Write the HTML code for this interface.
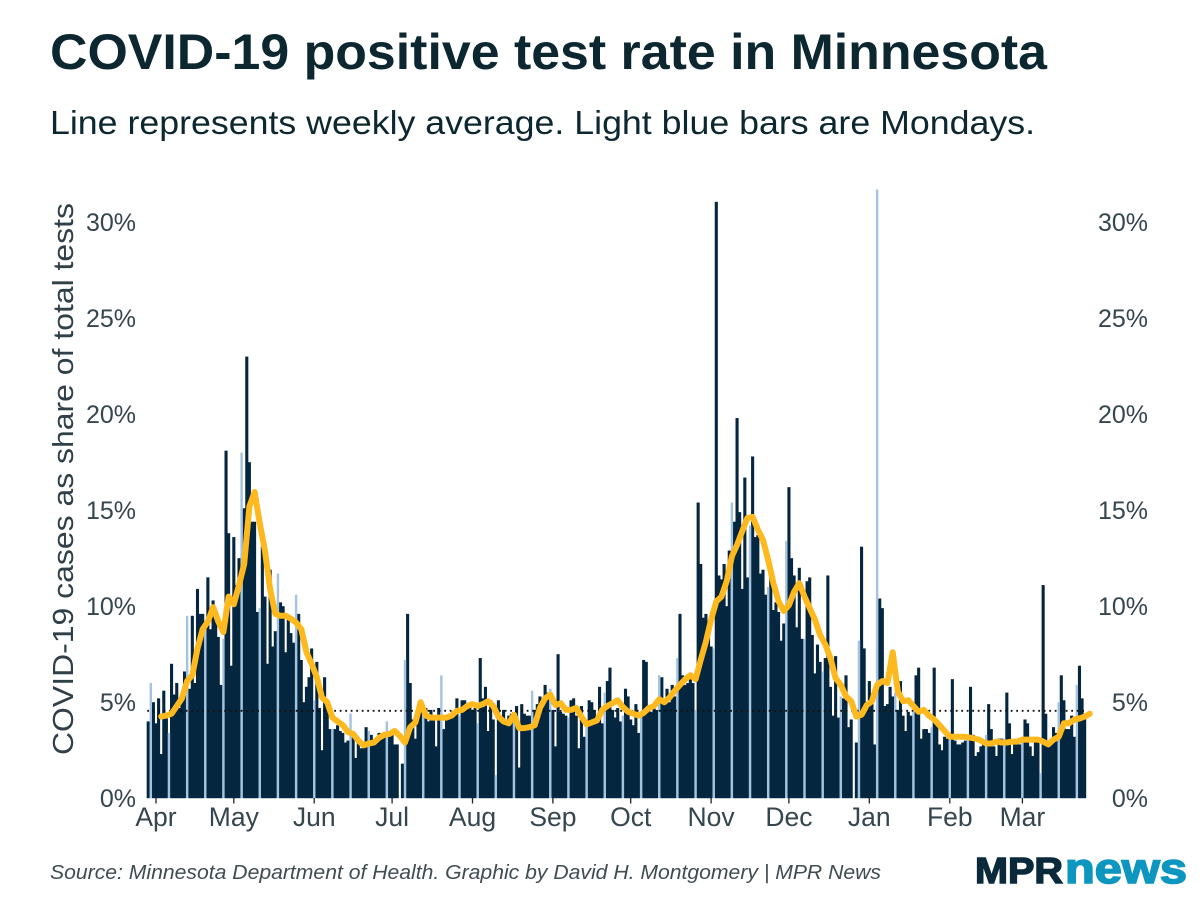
<!DOCTYPE html>
<html lang="en">
<head>
<meta charset="utf-8">
<title>COVID-19 positive test rate in Minnesota</title>
<style>
html,body{margin:0;padding:0;background:#fff;}
#wrap{width:1200px;height:900px;overflow:hidden;background:#fff;}
svg{display:block;}
text{font-family:"Liberation Sans",sans-serif;}
</style>
</head>
<body>
<div id="wrap">
<svg id="chart" width="1200" height="900" viewBox="0 0 1200 900" xmlns="http://www.w3.org/2000/svg">
  <text x="50" y="69" font-size="50" font-weight="700" fill="#0c2730" textLength="997" lengthAdjust="spacingAndGlyphs">COVID-19 positive test rate in Minnesota</text>
  <text x="50" y="134" font-size="33" fill="#0c2730" textLength="985" lengthAdjust="spacingAndGlyphs">Line represents weekly average. Light blue bars are Mondays.</text>
  <text transform="translate(73,755) rotate(-90)" x="0" y="0" font-size="29" fill="#2f4048" textLength="552" lengthAdjust="spacingAndGlyphs">COVID-19 cases as share of total tests</text>
  <g id="bars"></g>
  <g id="axes"></g>
  <g id="ref"></g>
  <g id="lineg"></g>
  <text x="50" y="879" font-size="20" font-style="italic" fill="#3f4c52" textLength="831" lengthAdjust="spacingAndGlyphs">Source: Minnesota Department of Health. Graphic by David H. Montgomery | MPR News</text>
  <g>
    <text x="975" y="883" font-size="36" font-weight="700" fill="#0a2a3c" stroke="#0a2a3c" stroke-width="1.4" textLength="88" lengthAdjust="spacingAndGlyphs">MPR</text>
    <text x="1065" y="883" font-size="43" font-weight="700" fill="#0d96bf" stroke="#0d96bf" stroke-width="1.6" textLength="122" lengthAdjust="spacingAndGlyphs">news</text>
  </g>
</svg>
</div>
<script>
// Daily positive test rate (%), one row per week, Sunday first, beginning Sunday, March 29, 2020.
var dailyRate = [
4.0,6.0,5.0,3.9,5.2,2.3,5.6,
4.4,3.4,7.0,5.4,6.0,4.7,5.1,
6.6,9.5,5.7,9.5,6.0,10.9,9.6,
9.6,8.7,11.5,8.8,10.3,9.5,8.4,
5.9,8.3,18.1,13.8,6.9,13.6,11.1,
12.5,18.0,15.1,23.0,17.5,14.4,14.4,
9.7,9.9,13.1,10.5,7.0,11.9,7.9,
8.7,11.7,10.2,10.0,7.6,9.5,8.6,
8.1,10.6,9.6,7.2,5.0,5.8,6.3,
7.8,5.1,7.1,4.7,2.5,6.3,4.9,
3.6,3.6,3.6,3.8,3.5,3.4,2.9,
3.0,4.4,3.4,2.1,2.9,2.6,2.7,
3.7,3.5,3.3,2.9,2.9,3.4,3.1,
3.4,4.0,3.4,3.5,2.8,2.8,0,
1.8,7.2,9.6,6.0,4.1,3.1,4.7,
4.7,4.6,4.7,4.0,4.6,4.1,2.7,
4.7,6.4,3.6,4.1,4.2,4.4,4.4,
5.2,4.3,5.1,5.1,4.8,4.8,4.6,
4.7,3.9,7.3,5.2,5.8,3.5,5.1,
4.1,1.2,5.1,4.3,4.6,4.1,4.3,
4.4,4.3,4.8,1.6,4.9,4.4,4.3,
4.3,5.6,4.6,4.9,5.3,5.0,5.9,
5.5,5.7,4.6,2.7,7.5,4.5,4.4,
4.3,4.2,5.1,5.2,4.3,2.6,4.8,
3.2,3.7,5.1,5.0,4.6,4.0,5.8,
3.9,5.5,6.1,6.8,4.6,4.2,4.7,
4.0,4.3,5.7,5.3,4.1,3.8,4.9,
3.4,4.3,7.2,7.1,4.7,4.5,4.8,
4.6,6.4,6.3,4.9,5.7,5.0,5.9,
5.3,7.3,9.6,6.4,5.9,6.0,6.4,
6.0,4.6,15.4,12.2,9.4,9.6,9.1,
7.9,7.8,31.06,11.6,11.4,12.2,10.0,
12.9,15.4,14.4,19.8,14.9,10.9,16.7,
11.5,14.2,17.8,13.6,13.7,11.7,11.9,
10.6,11.0,11.5,9.8,10.2,9.7,8.2,
9.1,13.4,16.2,12.5,11.6,8.9,12.0,
8.3,8.3,11.3,11.5,8.5,6.5,8.0,
7.1,6.6,7.3,11.6,5.8,4.3,7.4,
4.2,5.3,5.2,6.4,3.7,4.1,0,
2.9,8.2,13.1,7.8,4.6,6.1,5.0,
2.8,31.7,10.4,9.9,4.8,4.9,5.8,
5.3,5.5,4.6,6.1,4.3,3.5,4.5,
4.3,4.5,6.4,6.8,3.1,3.6,3.6,
3.4,3.7,6.8,4.1,2.8,2.5,3.2,
3.1,3.4,6.2,3.0,2.8,2.8,2.9,
3.0,3.2,5.8,3.3,2.2,2.4,2.7,
2.9,3.3,4.9,3.6,2.7,2.2,3.1,
3.1,3.1,5.5,3.9,2.3,2.9,2.9,
2.8,3.1,4.1,3.9,2.7,2.2,3.0,
3.0,1.3,11.1,4.4,3.0,3.0,3.7,
3.4,5.0,6.4,5.1,3.6,3.6,4.3,
3.2,5.9,6.9,5.2,4.4
];
// Weekly average (%), read every second day starting at the sixth bar.
var weeklyAverage = [
4.25,4.3,4.4,4.8,5.2,6.1,6.4,7.8,8.8,9.2,9.95,9.2,8.65,10.5,10.1,11.1,12.2,15.2,15.95,14.3,
12.9,10.9,9.6,9.5,9.5,9.35,9.15,8.8,7.6,7.0,6.3,5.25,5.0,4.2,4.0,3.8,3.45,3.35,3.0,2.75,
2.85,2.9,3.15,3.3,3.35,3.5,3.25,2.9,3.7,3.95,5.0,4.3,4.2,4.2,4.2,4.2,4.3,4.55,
4.6,4.8,4.9,4.8,4.9,5.05,4.8,4.25,4.0,3.9,4.35,3.65,3.65,3.7,3.8,4.7,5.2,5.4,4.85,4.95,4.6,4.6,
4.7,4.25,3.85,3.95,4.05,4.6,4.8,4.95,5.1,4.75,4.5,4.4,4.3,4.45,4.7,4.8,5.15,5.0,5.25,5.6,5.9,6.2,6.4,6.2,
7.2,8.15,9.3,10.25,10.5,11.3,12.6,13.2,13.9,14.6,14.65,14.0,13.45,12.4,11.2,10.25,9.75,10.05,10.75,11.2,
10.5,9.9,9.3,8.5,8.0,7.3,6.25,5.9,5.3,5.05,4.25,4.35,4.85,5.05,5.9,6.1,6.0,7.6,5.55,5.05,
5.1,4.8,4.5,4.6,4.3,4.1,3.8,3.5,3.2,3.2,3.2,3.2,3.15,3.1,3.0,2.85,2.85,2.95,2.9,2.9,2.95,2.95,
3.05,3.05,3.05,3.05,2.95,2.8,3.05,3.2,3.9,3.9,4.1,4.15,4.25,4.4
];
var monthLabels = ['Apr','May','Jun','Jul','Aug','Sep','Oct','Nov','Dec','Jan','Feb','Mar'];
var monthStartDays = [0,30,61,91,122,153,183,214,244,275,306,334];
var yTickValues = [0,5,10,15,20,25,30];
var referenceRate = 4.55;

var SVGNS = 'http://www.w3.org/2000/svg';
function xDay(d){ return 156 + 2.594 * d; }
function yVal(v){ return 798.2 - 19.2 * v; }
function xBar(i){ return xDay(i - 3); }
function mk(tag, parent){
  var el = document.createElementNS(SVGNS, tag);
  parent.appendChild(el);
  return el;
}

var barsG = document.getElementById('bars');
var axesG = document.getElementById('axes');
var refG = document.getElementById('ref');
var lineG = document.getElementById('lineg');

// Dark bars first, Mondays on top.
[false, true].forEach(function(mondayPass){
  dailyRate.forEach(function(v, i){
    var isMonday = (i % 7) === 1;
    if (isMonday !== mondayPass || v <= 0) return;
    var r = mk('rect', barsG);
    var w = isMonday ? 2.4 : 3.1;
    r.setAttribute('x', (xBar(i) - w / 2).toFixed(2));
    r.setAttribute('y', yVal(v).toFixed(2));
    r.setAttribute('width', w);
    r.setAttribute('height', (yVal(0) - yVal(v)).toFixed(2));
    r.setAttribute('fill', isMonday ? '#a3c3e0' : '#05263f');
    
    
  });
});

yTickValues.forEach(function(v){
  var left = mk('text', axesG);
  left.setAttribute('x', 136);
  left.setAttribute('y', (yVal(v) + 9).toFixed(1));
  left.setAttribute('text-anchor', 'end');
  left.setAttribute('font-size', '25');
  left.setAttribute('fill', '#36464e');
  left.textContent = v + '%';
  
  
  var right = mk('text', axesG);
  right.setAttribute('x', 1148);
  right.setAttribute('y', (yVal(v) + 9).toFixed(1));
  right.setAttribute('text-anchor', 'end');
  right.setAttribute('font-size', '25');
  right.setAttribute('fill', '#36464e');
  right.textContent = v + '%';
  
  
});

monthLabels.forEach(function(m, k){
  var x = xDay(monthStartDays[k]);
  var t = mk('line', axesG);
  t.setAttribute('x1', x.toFixed(1));
  t.setAttribute('x2', x.toFixed(1));
  t.setAttribute('y1', 798);
  t.setAttribute('y2', 803.5);
  t.setAttribute('stroke', '#222');
  t.setAttribute('stroke-width', '1.3');
  
  
  var l = mk('text', axesG);
  l.setAttribute('x', x.toFixed(1));
  l.setAttribute('y', 826);
  l.setAttribute('text-anchor', 'middle');
  l.setAttribute('font-size', '26.5');
  l.setAttribute('fill', '#36464e');
  l.textContent = m;
  
  
});

var refLine = mk('line', refG);
refLine.setAttribute('x1', xBar(0) - 1);
refLine.setAttribute('x2', xBar(dailyRate.length - 1) + 1);
refLine.setAttribute('y1', yVal(referenceRate).toFixed(1));
refLine.setAttribute('y2', yVal(referenceRate).toFixed(1));
refLine.setAttribute('stroke', '#111');
refLine.setAttribute('stroke-width', '1.8');
refLine.setAttribute('stroke-dasharray', '1.8 3.7');



var pts = weeklyAverage.map(function(v, k){
  return xBar(5 + 2 * k).toFixed(1) + ',' + yVal(v).toFixed(1);
});
var avg = mk('polyline', lineG);
avg.setAttribute('points', pts.join(' '));
avg.setAttribute('fill', 'none');
avg.setAttribute('stroke', '#fdb91e');
avg.setAttribute('stroke-width', '6');
avg.setAttribute('stroke-linejoin', 'round');
avg.setAttribute('stroke-linecap', 'round');


</script>
</body>
</html>
